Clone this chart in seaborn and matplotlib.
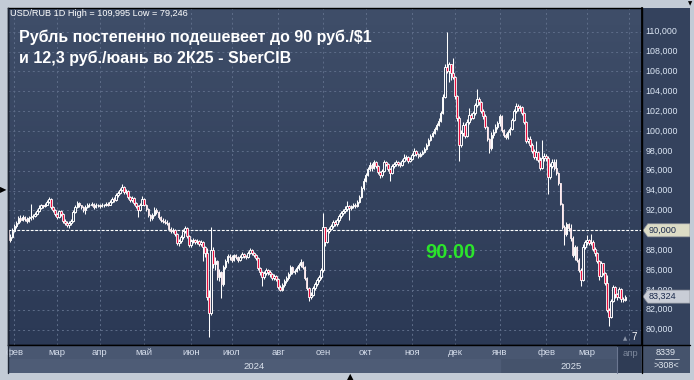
import numpy as np
import pandas as pd
import matplotlib
matplotlib.use("Agg")
import matplotlib.pyplot as plt
from matplotlib.colors import LinearSegmentedColormap
from matplotlib.patches import Polygon, Rectangle
from matplotlib.lines import Line2D
import seaborn as sns

# ---------------- data ----------------
start_date = "2024-01-29"
first_open = 90.0
close = [
    89.0, 89.3, 89.9,
    90.4, 90.7, 91.2, 91.0, 91.3, 91.1, 90.9, 91.2, 91.3, 91.4, 91.6, 91.9, 92.2, 92.5, 92.4, 92.6, 92.9, 93.2, 92.3, 92.0, 91.6,
    91.3, 91.9, 91.6, 90.9, 90.7, 90.5, 90.7, 90.9, 91.8, 92.3, 92.8, 92.5, 92.3, 92.0, 92.3, 92.6, 92.5, 92.7, 92.3, 92.6, 92.5,
    92.4, 92.6, 92.5, 92.7, 92.6, 92.9, 93.2, 93.1, 93.6, 93.8, 94.1, 94.4, 93.9, 94.0, 93.4, 93.1, 93.3, 92.8, 92.4, 92.0, 92.6, 93.2,
    92.6, 92.1, 91.5, 91.2, 91.5, 92.0, 91.8, 91.3, 91.0, 90.9, 90.8, 90.7, 90.1, 89.9, 90.0, 89.6, 88.7, 88.9, 89.3, 89.9, 90.2, 89.4, 88.5,
    88.9, 89.0, 88.8, 88.9, 88.6, 88.8, 88.3, 87.7, 83.3, 81.7, 88.0, 86.6, 86.9, 85.3, 85.8, 84.6, 86.3, 86.9, 87.4, 87.3,
    87.0, 87.5, 87.3, 87.0, 87.3, 87.6, 87.4, 87.3, 87.7, 88.0, 87.7, 87.5, 87.2, 86.2, 85.8, 85.3, 85.7, 86.0, 85.8, 85.6, 85.2, 85.4, 85.1,
    84.3, 84.0, 84.5, 84.9, 85.2, 85.6, 86.3, 85.8, 85.9, 86.2, 86.5, 86.8, 86.3, 85.2, 84.2, 83.3, 83.5, 84.2, 84.6, 85.0, 85.3, 86.0,
    90.3, 88.8, 89.9, 90.1, 90.4, 90.8, 90.6, 91.0, 91.4, 91.7, 91.9, 92.1, 92.4, 92.2, 92.4, 92.6, 92.4, 92.9, 93.4, 94.3, 95.0,
    95.6, 96.2, 96.6, 96.3, 96.9, 96.5, 95.9, 95.6, 96.0, 96.9, 96.7, 96.2, 95.8, 96.5, 96.7, 96.9, 96.7, 96.6, 97.0, 97.3, 97.4, 97.0, 97.2,
    97.6, 98.0, 97.7, 97.5, 97.7, 97.9, 98.2, 98.6, 99.1, 99.5, 99.8, 100.2, 100.6, 101.0, 101.8, 103.4, 106.4, 106.0, 106.7, 105.8, 105.4,
    103.5, 101.3, 98.6, 99.8, 100.6, 99.5, 100.9, 101.6, 101.3, 101.8, 102.6, 103.2, 102.9, 102.0, 101.5, 100.4, 99.2, 98.3, 99.6, 99.9, 100.4, 100.8,
    101.5, 100.1, 99.6, 99.4, 99.9, 100.2, 101.1, 102.0, 102.5, 102.3, 102.4, 101.8, 100.9, 99.0, 99.2, 98.6, 98.0, 97.4, 97.9, 97.1, 96.3, 97.3, 97.5,
    97.3, 95.4, 96.5, 96.9, 96.3, 95.8, 94.8, 92.7, 90.3, 89.6, 90.6, 90.2, 89.2, 87.5, 88.3, 87.0, 86.0, 85.0, 88.3, 88.8,
    89.0, 88.7, 88.8, 88.1, 87.7, 86.9, 85.4, 86.7, 85.7, 84.7, 82.0, 81.3, 82.9, 84.3, 83.6, 83.3, 84.1, 83.1, 83.0, 83.324,
]
high = [
    90.1, 89.6, 90.2,
    90.6, 90.9, 91.4, 91.5, 91.5, 91.4, 91.3, 91.4, 92.7, 91.6, 91.8, 92.1, 92.5, 92.7, 92.6, 92.8, 93.1, 93.4, 93.3, 92.4, 92.1,
    91.7, 92.0, 92.0, 91.7, 91.1, 90.9, 90.9, 91.1, 92.0, 92.5, 93.0, 92.9, 92.6, 92.4, 92.5, 92.8, 92.8, 92.9, 92.8, 92.8, 92.7,
    92.7, 92.8, 92.7, 92.9, 92.9, 93.1, 93.4, 93.4, 93.8, 94.0, 94.3, 94.7, 94.5, 94.2, 94.1, 93.5, 93.5, 93.4, 92.9, 92.5, 92.8, 93.5,
    93.3, 92.7, 92.2, 91.6, 91.7, 92.3, 92.2, 91.9, 91.4, 91.2, 91.1, 91.0, 90.8, 90.3, 90.2, 90.1, 89.7, 89.1, 89.5, 90.1, 90.4, 90.3, 89.5,
    89.1, 89.2, 89.1, 89.1, 89.0, 89.0, 88.9, 88.4, 88.2, 84.0, 90.3, 88.3, 87.3, 87.0, 86.1, 85.9, 86.5, 87.1, 87.6, 87.6,
    87.5, 87.6, 87.6, 87.4, 87.5, 87.8, 87.7, 87.5, 87.9, 88.2, 88.1, 87.8, 87.6, 87.3, 86.3, 85.9, 85.9, 86.2, 86.1, 86.0, 85.7, 85.6, 85.5,
    85.2, 84.5, 84.7, 85.1, 85.4, 85.8, 86.5, 86.4, 86.1, 86.4, 86.7, 87.1, 86.9, 86.4, 85.3, 84.3, 83.8, 84.4, 84.8, 85.2, 85.5, 86.2,
    91.7, 90.2, 90.1, 90.3, 90.6, 91.0, 91.0, 91.2, 91.6, 91.9, 92.1, 92.4, 93.0, 92.6, 92.6, 92.8, 92.8, 93.1, 93.6, 94.5, 95.3,
    95.8, 96.4, 96.9, 96.8, 97.1, 97.0, 96.6, 96.0, 96.2, 97.1, 97.0, 96.8, 96.3, 96.7, 96.9, 97.1, 97.0, 96.9, 97.2, 97.7, 97.6, 97.5, 97.4,
    97.8, 98.3, 98.1, 97.8, 97.9, 98.1, 98.4, 98.8, 99.3, 99.7, 100.0, 100.4, 100.8, 101.3, 102.0, 103.7, 106.7, 109.995, 107.0, 106.8, 107.4,
    105.5, 103.6, 101.5, 100.1, 100.9, 100.8, 101.2, 102.3, 101.8, 102.0, 102.8, 104.2, 103.4, 103.0, 102.2, 101.7, 100.5, 99.3, 99.9, 100.2, 100.7, 101.0,
    101.7, 101.6, 100.2, 99.8, 100.1, 100.4, 101.3, 102.2, 102.8, 102.7, 102.6, 102.5, 101.9, 101.0, 99.4, 99.5, 98.8, 98.2, 99.0, 98.0, 97.4, 99.1, 97.8,
    97.7, 97.5, 96.8, 97.2, 97.2, 97.2, 95.9, 94.7, 92.8, 90.5, 90.8, 90.7, 90.6, 89.4, 88.5, 88.4, 87.2, 86.2, 88.6, 89.0,
    89.5, 89.1, 89.6, 89.0, 88.3, 87.8, 87.0, 86.9, 86.5, 85.8, 85.5, 82.2, 83.1, 84.5, 84.4, 83.7, 84.3, 84.2, 83.3, 83.5,
]
low = [
    88.6, 88.8, 89.2,
    89.8, 90.2, 90.6, 90.8, 90.9, 90.9, 90.7, 90.8, 91.0, 91.1, 91.3, 91.5, 91.8, 92.1, 92.2, 92.3, 92.5, 92.8, 92.1, 91.8, 91.4,
    91.1, 91.2, 91.4, 90.7, 90.5, 90.3, 90.2, 90.5, 90.8, 91.7, 92.2, 92.3, 92.1, 91.8, 91.6, 92.2, 92.3, 92.4, 92.1, 92.2, 92.3,
    92.2, 92.3, 92.3, 92.4, 92.4, 92.5, 92.8, 92.9, 93.0, 93.4, 93.7, 94.0, 93.7, 93.7, 93.2, 92.9, 92.9, 92.6, 92.2, 91.3, 91.9, 92.5,
    92.4, 91.9, 91.3, 90.9, 91.0, 91.4, 91.6, 91.1, 90.8, 90.7, 90.6, 90.5, 89.9, 89.7, 89.7, 89.4, 88.5, 88.4, 88.7, 89.1, 89.7, 89.2, 88.3,
    88.3, 88.7, 88.6, 88.6, 88.4, 88.4, 86.9, 87.3, 83.0, 79.246, 81.5, 86.2, 86.0, 85.0, 84.9, 83.2, 84.4, 86.1, 86.7, 87.0,
    86.8, 86.9, 87.1, 86.8, 86.9, 87.2, 87.2, 87.1, 87.2, 87.6, 87.5, 87.3, 87.0, 86.0, 85.5, 84.4, 85.1, 85.5, 85.5, 85.3, 85.0, 85.0, 84.9,
    84.1, 83.9, 83.9, 84.3, 84.7, 85.0, 85.4, 85.6, 85.6, 85.8, 86.0, 86.3, 86.1, 85.0, 84.0, 82.9, 83.1, 83.4, 84.0, 84.4, 84.8, 85.1,
    85.8, 88.4, 88.7, 89.7, 90.0, 90.2, 90.4, 90.4, 90.8, 91.2, 91.5, 91.7, 91.9, 91.0, 92.0, 92.2, 92.2, 92.3, 92.8, 93.3, 94.1,
    94.9, 95.5, 96.0, 96.0, 96.2, 96.3, 95.7, 95.3, 95.4, 95.9, 96.5, 96.0, 95.0, 95.7, 96.3, 96.5, 96.5, 96.4, 96.5, 96.9, 97.1, 96.8, 96.9,
    97.1, 97.5, 97.5, 97.3, 97.4, 97.6, 97.8, 98.1, 98.5, 99.0, 99.4, 99.7, 100.1, 100.5, 100.9, 101.7, 103.3, 105.8, 104.9, 105.1, 105.2,
    103.2, 101.0, 97.0, 98.4, 99.5, 99.3, 99.4, 100.7, 101.1, 101.2, 101.6, 102.4, 102.6, 101.8, 101.2, 100.2, 99.0, 97.8, 98.1, 99.3, 99.8, 100.2,
    100.5, 99.9, 99.4, 99.2, 99.2, 99.6, 100.1, 101.0, 101.8, 102.0, 102.0, 101.6, 100.7, 98.8, 98.8, 98.4, 97.8, 97.2, 97.1, 96.9, 96.1, 96.2, 97.0,
    97.0, 93.7, 95.2, 96.3, 96.1, 95.6, 94.6, 92.5, 90.1, 88.5, 89.4, 89.9, 88.9, 87.3, 87.0, 86.8, 85.8, 84.4, 84.9, 88.1,
    88.5, 88.5, 88.5, 87.9, 87.4, 86.7, 85.0, 85.3, 85.5, 84.5, 81.8, 80.4, 81.2, 82.8, 83.2, 83.0, 83.2, 82.8, 82.8, 82.9,
]
y_ticks = [80, 82, 84, 86, 88, 90, 92, 94, 96, 98, 100, 102, 104, 106, 108, 110]
month_names = {1: "янв", 2: "фев", 3: "мар", 4: "апр", 5: "май", 6: "июн",
               7: "июл", 8: "авг", 9: "сен", 10: "окт", 11: "ноя", 12: "дек"}
header_text = "USD/RUB 1D High = 109,995 Low = 79,246"
title_line1 = "Рубль постепенно подешевеет до 90 руб./$1"
title_line2 = "и 12,3 руб./юань во 2К25 - SberCIB"
target_level = 90.0
target_label = "90.00"
last_price = 83.324
corner_top = "8339"
corner_bottom = ">308<"
bars_tag = "7"

# ---------------- style ----------------
sns.set_theme(style="dark")
plt.rcParams["font.family"] = ["Liberation Sans", "DejaVu Sans"]

W, H = 694, 380
fig = plt.figure(figsize=(W / 100, H / 100), dpi=100)
fig.patch.set_facecolor("#c3cbd6")


def rect(l, t, r, b):
    return [l / W, 1 - b / H, (r - l) / W, (b - t) / H]


def fx(px):
    return px / W


def fy(py):
    return 1 - py / H


c = np.array(close, dtype=float)
o = np.concatenate([[first_open], c[:-1]])
hi = np.maximum(np.array(high, dtype=float), np.maximum(o, c))
lo = np.minimum(np.array(low, dtype=float), np.minimum(o, c))
n = len(c)
idx = np.arange(n)
dates = pd.bdate_range(start_date, periods=n)

# month start positions
month_pos, month_lab = [], []
for i, d in enumerate(dates):
    if i == 0:
        continue
    if d.month != dates[i - 1].month:
        month_pos.append(i)
        month_lab.append(month_names[d.month])
# upcoming month (April 2025) just after the last bar
month_pos.append(n + 1)
month_lab.append(month_names[(dates[-1].month % 12) + 1])

YLIM = (78.45, 112.39)
XLIM = (-0.15, 312.2)

# ---------------- main plot ----------------
ax = fig.add_axes(rect(8, 8, 642, 345))
ax.set_xlim(*XLIM)
ax.set_ylim(*YLIM)
cmap = LinearSegmentedColormap.from_list("bg", ["#3f4e69", "#2b3955"])
ax.imshow(np.linspace(0, 1, 256).reshape(-1, 1), cmap=cmap, aspect="auto",
          extent=[XLIM[0], XLIM[1], YLIM[0], YLIM[1]], origin="upper", zorder=0)
ax.set_xticks(month_pos)
ax.set_yticks(y_ticks)
ax.tick_params(labelbottom=False, labelleft=False, length=0)
ax.grid(True, color="#5e6d89", linestyle=(0, (2, 3)), linewidth=0.7)
ax.set_axisbelow(True)
for s in ax.spines.values():
    s.set_color("black")
    s.set_linewidth(1.0)
    s.set_visible(True)

# wicks
ax.vlines(idx, lo, hi, color="white", linewidth=0.75, zorder=3)
up = c >= o
body_b = np.minimum(o, c)
body_h = np.maximum(np.abs(c - o), 0.06)
ax.bar(idx[up], body_h[up], bottom=body_b[up], width=0.8, color="#34425e",
       edgecolor="white", linewidth=0.7, zorder=4)
ax.bar(idx[~up], body_h[~up], bottom=body_b[~up], width=0.8, color="#e8103f",
       edgecolor="white", linewidth=0.6, zorder=4)

# target line
ax.axhline(target_level, color="white", linewidth=0.8, linestyle=(0, (2.5, 1.5)), zorder=2)

# ---------------- right price panel ----------------
axr = fig.add_axes(rect(642, 8, 690, 345))
axr.set_facecolor("#34425d")
axr.set_xlim(0, 1)
axr.set_ylim(*YLIM)
axr.set_xticks([])
axr.set_yticks([])
for s in axr.spines.values():
    s.set_visible(False)
axr.spines["left"].set_visible(True)
axr.spines["left"].set_color("black")
for v in y_ticks:
    if v == target_level:
        continue  # hidden under the target tag
    axr.text(0.07, v, f"{v:.3f}".replace(".", ","), color="#dce6f4", fontsize=6.4,
             va="center", ha="left", zorder=2)


def tag(v, face, label):
    h = 0.66
    poly = Polygon([(0.02, v), (0.12, v + h), (1.0, v + h), (1.0, v - h), (0.12, v - h)],
                   closed=True, facecolor=face, edgecolor="#8a8f99", linewidth=0.5, zorder=5)
    axr.add_patch(poly)
    axr.text(0.13, v, label, color="#1b2a4c", fontsize=6.6, va="center", ha="left", zorder=6)


tag(target_level, "#dcdcc6", f"{target_level:.3f}".replace(".", ","))
tag(last_price, "#c9cdd6", f"{last_price:.3f}".replace(".", ","))

# ---------------- month strip ----------------
axm = fig.add_axes(rect(8, 345, 642, 359))
axm.set_facecolor("#495771")
axm.set_xlim(*XLIM)
axm.set_ylim(0, 1)
axm.set_xticks([])
axm.set_yticks([])
for s in axm.spines.values():
    s.set_visible(False)
for p, lab in zip(month_pos[:-1], month_lab[:-1]):
    axm.text(p, 0.45, lab, color="#d4dcea", fontsize=6.8, ha="center", va="center")

# ---------------- year strip ----------------
axy = fig.add_axes(rect(8, 359, 642, 373))
axy.set_xlim(*XLIM)
axy.set_ylim(0, 1)
axy.set_facecolor("#45536c")
axy.set_xticks([])
axy.set_yticks([])
for s in axy.spines.values():
    s.set_visible(False)
jan_pos = [i for i, d in enumerate(dates) if i > 0 and d.year != dates[i - 1].year][0]
axy.axvspan(XLIM[0], jan_pos, color="#4e5c76", zorder=0)
axy.text((XLIM[0] + jan_pos) / 2, 0.45, str(dates[0].year), color="#dbe2ec",
         fontsize=6.8, ha="center", va="center")
axy.text((jan_pos + XLIM[1]) / 2, 0.45, str(dates[-1].year), color="#dbe2ec",
         fontsize=6.8, ha="center", va="center")

# future month box
fig.patches.append(Rectangle((fx(617), fy(373)), fx(641) - fx(617), fy(345) - fy(373),
                             transform=fig.transFigure, facecolor="#2f3c55",
                             edgecolor="none", zorder=5))
fig.lines.append(Line2D([fx(617), fx(617)], [fy(373), fy(347)], transform=fig.transFigure,
                        color="#6b7791", linewidth=0.8, zorder=6))
fig.text(fx(630), fy(353), month_lab[-1], color="#7c879b", fontsize=6.8,
         ha="center", va="center", zorder=7)

# corner box
axc = fig.add_axes(rect(642, 345, 690, 373))
axc.set_facecolor("#45536c")
axc.set_xlim(0, 1)
axc.set_ylim(0, 1)
axc.set_xticks([])
axc.set_yticks([])
for s in axc.spines.values():
    s.set_visible(False)
axc.text(0.5, 0.72, corner_top, color="#e2e8f0", fontsize=6.5, ha="center", va="center")
axc.plot([0.28, 0.78], [0.5, 0.5], color="#c9d0db", linewidth=0.6)
axc.text(0.5, 0.26, corner_bottom, color="#e2e8f0", fontsize=6.5, ha="center", va="center")

# borders
fig.lines.append(Line2D([fx(642), fx(642)], [fy(373), fy(8)], transform=fig.transFigure,
                        color="black", linewidth=1.0, zorder=8))
fig.lines.append(Line2D([fx(8), fx(690)], [fy(345), fy(345)], transform=fig.transFigure,
                        color="black", linewidth=1.0, zorder=8))
fig.lines.append(Line2D([fx(8), fx(8)], [fy(373), fy(8)], transform=fig.transFigure,
                        color="#1d2536", linewidth=1.0, zorder=8))

# ---------------- texts ----------------
fig.text(fx(10), fy(14), header_text, color="white", fontsize=6.6, ha="left", va="center", zorder=10)
fig.text(fx(19), fy(37), title_line1, color="white", fontsize=11.5, fontweight="bold",
         ha="left", va="center", zorder=10)
fig.text(fx(19), fy(58), title_line2, color="white", fontsize=11.5, fontweight="bold",
         ha="left", va="center", zorder=10)
fig.text(fx(450), fy(253), target_label, color="#2be42b", fontsize=14.5, fontweight="bold",
         ha="center", va="center", zorder=10)
fig.text(fx(634), fy(337), bars_tag, color="white", fontsize=7, ha="center", va="center", zorder=10)
fig.text(fx(625), fy(339), "▲", color="#8c96a8", fontsize=4, ha="center", va="center",
         family="DejaVu Sans", zorder=10)
fig.text(fx(3), fy(190), "▶", color="black", fontsize=6, ha="center", va="center",
         family="DejaVu Sans", zorder=10)
fig.text(fx(350), fy(377), "▲", color="black", fontsize=6, ha="center", va="center",
         family="DejaVu Sans", zorder=10)
fig.text(fx(690), fy(4), "▼", color="black", fontsize=4, ha="center", va="center",
         family="DejaVu Sans", zorder=10)

fig.savefig("out.png", dpi=100, facecolor=fig.get_facecolor())
